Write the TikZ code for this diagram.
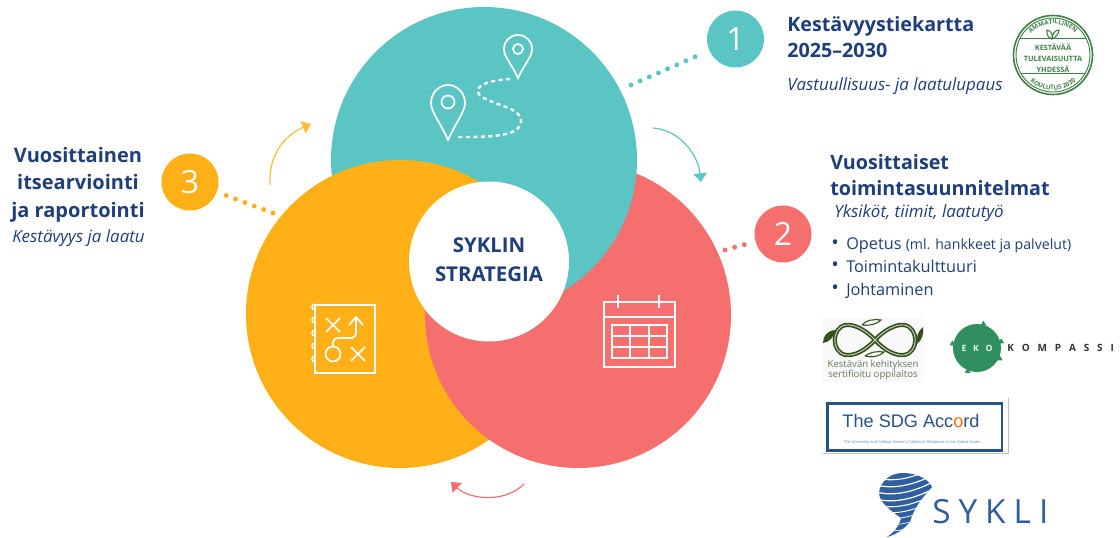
\documentclass[tikz,border=0pt]{standalone}
\usepackage{fontspec}
\setmainfont{Open Sans}
\newfontfamily\sdgfont{Liberation Sans}
\usetikzlibrary{arrows.meta,decorations.text,calc}
\definecolor{teal}{HTML}{5AC5C3}
\definecolor{org}{HTML}{FEB016}
\definecolor{coral}{HTML}{F56F6F}
\definecolor{navy}{HTML}{1F3F7A}
\definecolor{seal}{HTML}{3F7F45}
\definecolor{ekogreen}{HTML}{2F8F5F}
\definecolor{swirl}{HTML}{2F5F9E}
\definecolor{infin}{HTML}{34501C}
\tikzset{
  x=0.75pt,y=-0.75pt,
  badge/.style={circle,minimum size=42.75pt,inner sep=0pt,text=white,font=\fontsize{24}{24}\selectfont},
  head/.style={text=navy,font=\fontsize{14.8}{19.5}\selectfont\bfseries,align=left,anchor=north west,inner sep=0pt},
  sub/.style={text=navy,font=\fontsize{12.7}{15}\selectfont\itshape,anchor=west,inner sep=0pt},
  body/.style={text=navy,font=\fontsize{12.2}{14}\selectfont,anchor=west,inner sep=0pt},
  bull/.style={text=navy,font=\fontsize{15}{15}\selectfont,anchor=west,inner sep=0pt},
  dots/.style={line width=3.7pt,dash pattern=on 0pt off 7.5pt,line cap=round},
  flow/.style={line width=0.9pt,-{Triangle[length=6.5pt,width=10pt]}},
  icon/.style={draw=white,line width=1.3pt,fill=none},
  icond/.style={white,line width=1.8pt,dash pattern=on 3pt off 2.6pt,line cap=butt},
  seallab/.style={text=seal,font=\fontsize{5.5}{6}\selectfont\bfseries,inner sep=0pt},
}
\newcommand{\kg}{\hspace{5.9pt}}
\begin{document}
\begin{tikzpicture}
\useasboundingbox (0,0) rectangle (1120,538);
% circles: each overlaps the next
\node[circle,fill=coral,minimum size=229.5pt,inner sep=0pt] (red) at (578,315) {};
\node[circle,fill=teal,minimum size=229.5pt,inner sep=0pt] (tealc) at (484,160) {};
\node[circle,fill=org,minimum size=231pt,inner sep=0pt] (orange) at (400,314) {};
\begin{scope}
  \clip (400,314) circle [radius=155];
  \fill[coral] (578,315) circle [radius=153];
\end{scope}
\node[circle,fill=white,minimum size=120pt,inner sep=0pt] (core) at (489,261.5) {};
\node[text=navy,align=center,inner sep=0pt,font=\fontsize{15.3}{21.7}\selectfont\bfseries] (coretext) at (489,259.5) {SYKLIN\\STRATEGIA};
% badges
\node[badge,fill=teal] (b1) at (735.5,39) {1};
\node[badge,fill=coral] (b2) at (783,234) {2};
\node[badge,fill=org] (b3) at (190,182) {3};
\coordinate (d1) at (631,85);
\coordinate (d2) at (725,250);
\coordinate (d3) at (273,213);
\draw[dots,teal,shorten >=32pt] (d1) -- (b1.center);
\draw[dots,coral,shorten >=25pt] (d2) -- (b2.center);
\draw[dots,org,shorten >=28pt] (d3) -- (b3.center);
% flow arrows
\coordinate (a1s) at (270,185); \coordinate (a1e) at (311,124);
\coordinate (a2s) at (653,128); \coordinate (a2e) at (701,182);
\coordinate (a3s) at (524,484); \coordinate (a3e) at (451,482);
\draw[flow,org!85!white] (a1s) .. controls (268,155) and (285,135) .. (a1e);
\draw[flow,teal] (a2s) .. controls (680,130) and (698,155) .. (a2e);
\draw[flow,coral] (a3s) .. controls (505,503) and (470,500) .. (a3e);
% map pins icon
\draw[icon] (518,78) .. controls (511,63) and (504,57) .. (504,49) .. controls (504,41) and (510,35) .. (518,35) .. controls (526,35) and (532,41) .. (532,49) .. controls (532,57) and (525,63) .. (518,78) -- cycle;
\draw[icon] (518,49) circle [radius=5];
\draw[icon] (448,140) .. controls (440,122) and (431,112) .. (431,103) .. controls (431,93) and (439,85) .. (448,85) .. controls (457,85) and (465,93) .. (465,103) .. controls (465,112) and (456,122) .. (448,140) -- cycle;
\draw[icon] (448,102) circle [radius=6.5];
\draw[icond] (510,79) .. controls (495,80) and (478,83) .. (478,91) .. controls (478,103) and (520,105) .. (521,120) .. controls (522,137) and (490,137) .. (458,137);
% playbook icon
\draw[icon] (315,305) rectangle (375,373);
\foreach \yy in {313,326,339,352,365}
  \draw[icon,line width=1.1pt] (315,\yy-3) arc [start angle=90,end angle=270,radius=3];
\draw[icon] (326,318) -- (340,332) (340,318) -- (326,332);
\draw[icon] (351,347) -- (365,361) (365,347) -- (351,361);
\draw[icon] (333,354) circle [radius=7.5];
\draw[icon] (333,346) -- (333,344) .. controls (333,340) and (335,338) .. (339,338) -- (350,338) .. controls (354,338) and (356,336) .. (356,332) -- (356,318);
\draw[icon] (349,325) -- (356,317) -- (363,325);
% calendar icon
\draw[icon] (604,302) rectangle (675,367);
\draw[icon] (604,317) -- (675,317);
\draw[icon] (618,295) -- (618,308) (659,295) -- (659,308);
\draw[icon] (612,325) rectangle (667,358);
\draw[icon] (630,325) -- (630,358) (649,325) -- (649,358) (612,336) -- (667,336) (612,347) -- (667,347);
% top right text
\node[head] (t1) at (787,16) {\vphantom{p}Kestävyystiekartta\\2025–2030};
\node[sub] (s1) at (787,86) {Vastuullisuus- ja laatulupaus};
% right text
\node[head] (t2) at (830,154) {\vphantom{p}Vuosittaiset\\toimintasuunnitelmat};
\node[sub] (s2) at (834,213) {Yksiköt, tiimit, laatutyö};
\node[bull] (l0) at (831,245) {•};
\node[body] (l1) at (846,245.5) {Opetus {\fontsize{10.6}{12}\selectfont (ml. hankkeet ja palvelut)}};
\node[bull] (l0b) at (831,267) {•};
\node[body] (l2) at (846,266.5) {Toimintakulttuuri};
\node[bull] (l0c) at (831,290) {•};
\node[body] (l3) at (846,290.5) {Johtaminen};
% left text
\node[text=navy,font=\fontsize{15}{20.5}\selectfont\bfseries,align=center,inner sep=0pt] (t3) at (78,184.5) {Vuosittainen\\itsearviointi\\ja raportointi};
\node[sub,anchor=east] (s3) at (145,238) {Kestävyys ja laatu};
% seal logo
\draw[seal,line width=1.2pt] (1053,55) circle [radius=39.5];
\draw[seal,line width=0.7pt] (1053,55) circle [radius=37];
\begin{scope}
  \clip (1053,55) circle [radius=37];
  \draw[seal,line width=0.7pt] (1010,38) -- (1096,38) (1010,73) -- (1096,73);
\end{scope}
\draw[seal,line width=0.8pt] (1052,39) .. controls (1046,37) and (1047,32) .. (1047,30) .. controls (1051,31) and (1053,34) .. (1052,39) .. controls (1056,37) and (1059,34) .. (1059,30) .. controls (1055,30) and (1052,34) .. (1052,39);
\node[seallab] (k1) at (1053,47.5) {KESTÄVÄÄ};
\node[seallab] (k2) at (1053,59) {TULEVAISUUTTA};
\node[seallab] (k3) at (1053,69) {YHDESSÄ};
\path[postaction={decorate,decoration={text along path,text align=center,text={|\fontsize{4.7}{5}\selectfont\bfseries\color{seal}|AMMATILLINEN}}}] (1022.3,49.6) arc [start angle=190,end angle=350,radius=31];
\path[postaction={decorate,decoration={text along path,text align=center,text={|\fontsize{4.7}{5}\selectfont\bfseries\color{seal}|KOULUTUS 2030}}}] (1020.8,68.7) arc [start angle=157,end angle=23,radius=35];
% infinity logo
\fill[gray!5] (822,318) rectangle (924,382);
\begin{scope}[infin]
\draw[line width=3.2pt] (875,340) .. controls (865,329) and (853,324) .. (846,325) .. controls (831,327) and (831,353) .. (846,355) .. controls (854,356) and (865,351) .. (875,340) .. controls (885,329) and (897,324) .. (904,325) .. controls (919,327) and (919,353) .. (904,355) .. controls (896,356) and (885,351) .. (875,340);
\draw[white!75!infin,line width=0.7pt] (875,340) .. controls (865,329) and (853,324) .. (846,325) .. controls (831,327) and (831,353) .. (846,355) .. controls (854,356) and (865,351) .. (875,340) .. controls (885,329) and (897,324) .. (904,325) .. controls (919,327) and (919,353) .. (904,355) .. controls (896,356) and (885,351) .. (875,340);
\fill (823,343) .. controls (823,336) and (827,331) .. (835,330) .. controls (834,337) and (830,342) .. (823,343);
\fill (923,327) .. controls (924,334) and (922,340) .. (917,344) .. controls (916,337) and (918,331) .. (923,327);
\draw[line width=0.8pt] (862,325) .. controls (866,320) and (873,319) .. (881,320) .. controls (877,324) and (870,326) .. (862,325);
\draw[line width=0.8pt] (865,356) .. controls (870,352) and (877,351) .. (884,352) .. controls (880,356) and (873,358) .. (865,356);
\end{scope}
\node[text=infin!75,font=\fontsize{7.2}{7.8}\selectfont,align=center,inner sep=0pt] (kk) at (873,370) {Kestävän kehityksen\\sertifioitu oppilaitos};
% EKO kompassi
\node[circle,fill=ekogreen,minimum size=36pt,inner sep=0pt,text=white!90!ekogreen,font=\fontsize{6.5}{6.5}\selectfont\bfseries] (eko) at (977,348) {E\hspace{5pt}K\hspace{5pt}O};
\foreach \a in {-75,-15,25,112,190}
  \fill[ekogreen] ($(977,348)+(\a:25)+(-3,1.8)$) -- ++(6,0) -- ++(-3,-5) -- cycle;
\node[text=black!80,font=\fontsize{7.5}{8}\selectfont\bfseries,anchor=west,inner sep=0pt] (kom) at (1007,348) {K\kg O\kg M\kg P\kg A\kg S\kg S\kg I};
% SDG
\draw[gray!50,line width=0.5pt] (1008,398) -- (1008,453) -- (823,453);
\draw[swirl!85!black,line width=1.7pt] (827.5,403.5) rectangle (1002,450.5);
\node[text=swirl!85!black,font=\sdgfont\fontsize{13.6}{15}\selectfont,inner sep=0pt] (sdg) at (911,421) {The SDG Acc\textcolor{orange!85!red}{o}rd};
\node[text=swirl!70,font=\sdgfont\fontsize{3}{3}\selectfont,inner sep=0pt] (sdg2) at (912,442) {The University and College Sector's Collective Response to the Global Goals};
% Sykli logo
\begin{scope}
\clip (903,473) .. controls (915,473) and (928,478) .. (932,487) .. controls (925,495) and (915,505) .. (910,522) .. controls (903,530) and (895,535) .. (887,537) .. controls (893,533) and (899,527) .. (901,518) .. controls (890,510) and (875,500) .. (880,488) .. controls (884,478) and (893,473) .. (903,473) -- cycle;
\fill[swirl] (870,465) rectangle (940,540);
\foreach \yy/\lw in {476/0.8,483/0.9,490/0.9,497/0.9,503/0.8,509/0.7,515/0.6,521/0.5,527/0.5}
  \draw[white,line width=\lw pt] (870,\yy) .. controls (890,\yy+8) and (915,\yy+3) .. (940,\yy-12);
\end{scope}
\node[text=swirl,font=\fontsize{25}{25}\selectfont,anchor=west,inner sep=0pt] (syk) at (932,512) {S\hspace{6pt}Y\hspace{6pt}K\hspace{6pt}L\hspace{6pt}I};
\end{tikzpicture}
\end{document}
